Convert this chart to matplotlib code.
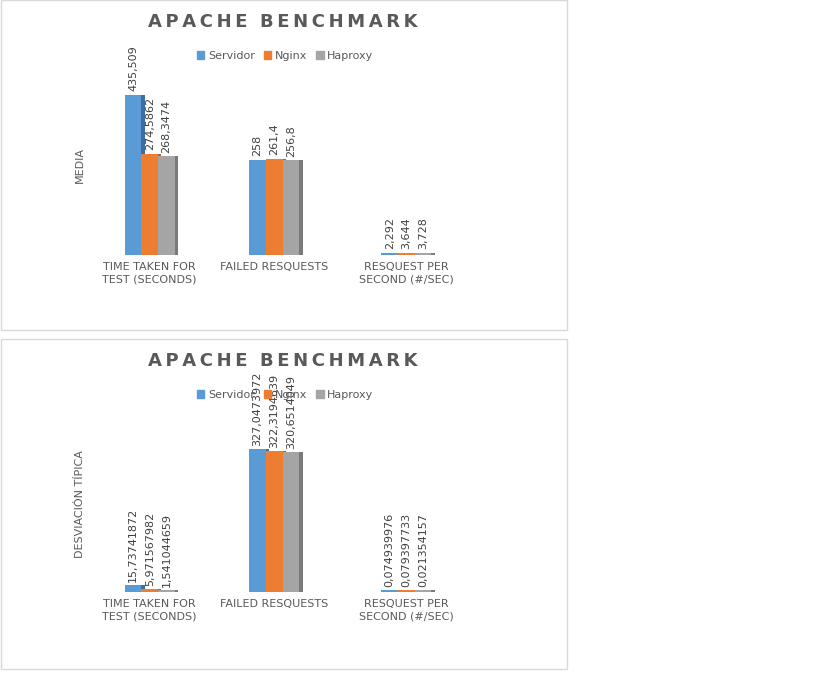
import matplotlib
matplotlib.use("Agg")
import matplotlib.pyplot as plt
from matplotlib.patches import Rectangle, Patch
import numpy as np

categories = ["TIME TAKEN FOR\nTEST (SECONDS)", "FAILED RESQUESTS", "RESQUEST PER\nSECOND (#/SEC)"]
series = ["Servidor", "Nginx", "Haproxy"]
media = {"Servidor": [435.509, 258, 2.292], "Nginx": [274.5862, 261.4, 3.644], "Haproxy": [268.3474, 256.8, 3.728]}
media_lbl = {"Servidor": ["435,509", "258", "2,292"], "Nginx": ["274,5862", "261,4", "3,644"], "Haproxy": ["268,3474", "256,8", "3,728"]}
desv = {"Servidor": [15.73741872, 327.0473972, 0.074939976], "Nginx": [5.971567982, 322.3194639, 0.079397733], "Haproxy": [1.541044659, 320.6514049, 0.021354157]}
desv_lbl = {"Servidor": ["15,73741872", "327,0473972", "0,074939976"], "Nginx": ["5,971567982", "322,3194639", "0,079397733"], "Haproxy": ["1,541044659", "320,6514049", "0,021354157"]}
ylabels = ["MEDIA", "DESVIACIÓN TÍPICA"]

colors = ["#5B9BD5", "#ED7D31", "#A5A5A5"]
dark = ["#3D6E9C", "#B45E24", "#7A7A7A"]
W, H = 827, 694
fig = plt.figure(figsize=(W/100, H/100), dpi=100)

def fx(px): return px / W
def fy(py): return 1 - py / H

panels = [(0, media, media_lbl, 500, 255, 184, ylabels[0]),
          (339, desv, desv_lbl, 380, 592, 166, ylabels[1])]
for top, data, lbl, ymax, base, hpx, ylab in panels:
    fig.patches.append(Rectangle((fx(0.5), fy(top + 330)), fx(566), 330 / H, transform=fig.transFigure,
                                 fill=False, edgecolor="#D9D9D9", lw=1))
    fig.text(fx(283), fy(top + 22), "A P A C H E   B E N C H M A R K".replace(" ", "\u2009").replace("\u2009\u2009\u2009", "  "),
             ha="center", va="center", fontsize=13, fontweight="bold", color="#595959")
    ax = fig.add_axes([fx(92), fy(base), fx(385), hpx / H])
    ax.set_xlim(0, 3); ax.set_ylim(0, ymax)
    ax.axis("off")
    centers = np.array([0.45, 1.42, 2.45])
    bw = 0.13
    for i, s in enumerate(series):
        x = centers + (i - 1) * bw
        vals = [max(v, ymax * 0.012) for v in data[s]]
        ax.bar(x + bw * 0.55, vals, width=bw * 0.3, color=dark[i], zorder=1)
        ax.bar(x, vals, width=bw, color=colors[i], zorder=2)
        for xi, v, t in zip(x, vals, lbl[s]):
            ax.text(xi, v + ymax * 0.02, t, rotation=90, ha="center", va="bottom",
                    fontsize=8, color="#404040")
    for c, name in zip(centers, categories):
        ax.text(c, -ymax * 0.04, name, ha="center", va="top", fontsize=8,
                color="#595959", linespacing=1.3)
    fig.text(fx(80), fy(top + 165), ylab, rotation=90, ha="center", va="center",
             fontsize=8, color="#595959")
    handles = [Patch(color=c) for c in colors]
    fig.legend(handles, series, loc="center", bbox_to_anchor=(fx(285), fy(top + 56)),
               ncol=3, frameon=False, fontsize=8, handlelength=0.7, handleheight=0.7,
               columnspacing=0.8, handletextpad=0.3, labelcolor="#595959")

fig.savefig("out.png", dpi=100)
